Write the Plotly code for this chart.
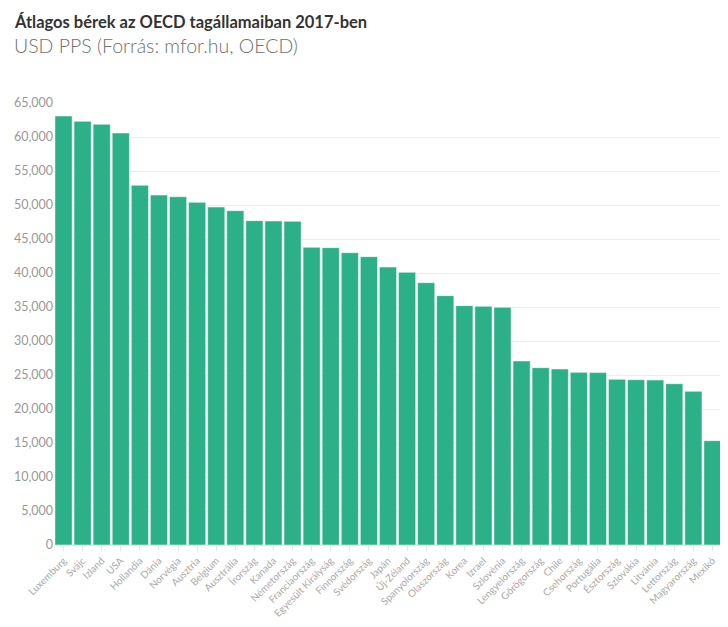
import plotly.graph_objects as go

# Átlagos bérek, USD PPS, 2017
countries = [
    "Luxemburg", "Svájc", "Izland", "USA", "Hollandia", "Dánia", "Norvégia",
    "Ausztria", "Belgium", "Ausztrália", "Írország", "Kanada", "Németország",
    "Franciaország", "Egyesült Királyság", "Finnország", "Svédország", "Japán",
    "Új-Zéland", "Spanyolország", "Olaszország", "Korea", "Izrael", "Szlovénia",
    "Lengyelország", "Görögország", "Chile", "Csehország", "Portugália",
    "Észtország", "Szlovákia", "Litvánia", "Lettország", "Magyarország", "Mexikó",
]
wages = [
    63090, 62300, 61870, 60590, 52900, 51470, 51220,
    50390, 49700, 49160, 47700, 47650, 47600,
    43780, 43730, 42990, 42400, 40880,
    40100, 38580, 36670, 35200, 35100, 34950,
    27060, 26080, 25880, 25390, 25350,
    24360, 24310, 24260, 23720, 22600, 15340,
]
y_ticks = list(range(0, 65001, 5000))

title = "Átlagos bérek az OECD tagállamaiban 2017-ben"
subtitle = "USD PPS (Forrás: mfor.hu, OECD)"

fig = go.Figure(
    go.Bar(
        x=countries,
        y=wages,
        marker=dict(color="#2BB087", line=dict(color="rgba(255,255,255,0.5)", width=1)),
        hovertemplate="%{x}: %{y:,}<extra></extra>",
    )
)

# the page body has an 8px margin, so the figure is drawn 8px smaller
fig.update_layout(
    width=720,
    height=619,
    margin=dict(l=46, r=6, t=95, b=82, autoexpand=False),
    paper_bgcolor="white",
    plot_bgcolor="white",
    font=dict(family="Lato, 'Source Sans Pro', sans-serif", color="#999"),
    bargap=0.1,
    showlegend=False,
)

fig.add_annotation(
    text="<b>" + title + "</b>",
    xref="paper", yref="paper", x=0, y=1,
    xanchor="left", yanchor="bottom",
    xshift=-42, yshift=69,
    showarrow=False,
    font=dict(size=16.5, color="#333"),
)
fig.add_annotation(
    text=subtitle,
    xref="paper", yref="paper", x=0, y=1,
    xanchor="left", yanchor="bottom",
    xshift=-42, yshift=44,
    showarrow=False,
    font=dict(size=19.5, color="#707070", weight=300),
)

fig.update_xaxes(
    tickangle=-45,
    tickfont=dict(size=10, color="#aaa"),
    showline=True,
    linecolor="#e6e6e6",
    ticks="outside",
    ticklen=5,
    tickcolor="#e6e6e6",
    showgrid=False,
)
fig.update_yaxes(
    range=[0, 65000],
    tickvals=y_ticks,
    tickformat=",",
    tickfont=dict(size=12.5, color="#999"),
    gridcolor="#ececec",
    zeroline=False,
)

fig.write_html("out.html")
